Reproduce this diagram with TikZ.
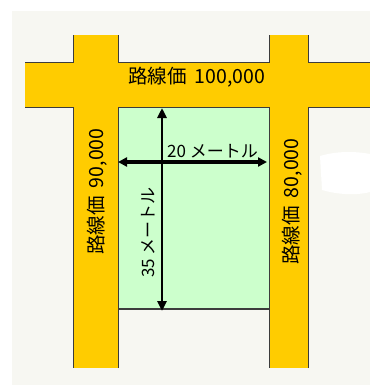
\documentclass[tikz,border=0pt]{standalone}
\usepackage{fontspec}
\setmainfont{Noto Sans CJK JP}
\usetikzlibrary{arrows.meta}
\definecolor{bgc}{RGB}{247,247,242}
\definecolor{road}{RGB}{255,204,0}
\definecolor{lot}{RGB}{204,255,204}
\definecolor{edge}{RGB}{60,60,60}
\tikzset{
  edgeline/.style={draw=edge,line width=1.3pt},
  roadlabel/.style={inner sep=0pt,font=\fontsize{19.5}{19.5}\selectfont},
  dimlabel/.style={inner sep=0pt,font=\fontsize{17}{17}\selectfont},
}
\newcommand{\gapsp}{\hspace{8pt}}
\begin{document}
\begin{tikzpicture}[x=1pt,y=-1pt]
\useasboundingbox (0,0) rectangle (370,385);
\fill[white] (0,0) rectangle (370,385);
\fill[bgc] (12,11) rectangle (370,385);
% white patch
\fill[white] (320,156) .. controls (340,150) and (360,152) .. (370,154) -- (370,192) .. controls (355,196) and (335,194) .. (322,190) -- cycle;
% lot
\fill[lot] (118.3,107.3) rectangle (269.3,309);
% roads
\fill[road] (25,62.5) rectangle (370,107.3);
\fill[road] (73.5,35.5) rectangle (118.3,368);
\fill[road] (269.3,35.5) rectangle (308.3,368);
% outlines
\draw[edgeline] (25,62.5) -- (73.5,62.5) -- (73.5,35.5);
\draw[edgeline] (118.3,35.5) -- (118.3,62.5) -- (269.3,62.5) -- (269.3,35.5);
\draw[edgeline] (308.3,35.5) -- (308.3,62.5) -- (370,62.5);
\draw[edgeline] (25,107.3) -- (73.5,107.3) -- (73.5,368);
\draw[edgeline] (118.3,368) -- (118.3,107.3) -- (269.3,107.3) -- (269.3,368);
\draw[edgeline] (308.3,368) -- (308.3,107.3) -- (370,107.3);
\draw[edgeline] (118.3,309) -- (269.3,309);
% dimension arrows
\coordinate (vt) at (162,108);
\coordinate (vb) at (162,311);
\coordinate (hl) at (118,162);
\coordinate (hr) at (267,162);
\draw[line width=2.5pt,{Triangle[width=9pt,length=10pt]}-{Triangle[width=9pt,length=10pt]}] (vt) -- (vb);
\draw[line width=3.5pt,{Triangle[width=9pt,length=9pt]}-{Triangle[width=9pt,length=9pt]}] (hl) -- (hr);
% labels
\node[roadlabel] (top) at (196.5,77.5) {路線価\gapsp 100,000};
\node[roadlabel,rotate=90] (left) at (96.7,191.5) {路線価\gapsp 90,000};
\node[roadlabel,rotate=90] (right) at (292,201.5) {路線価\gapsp 80,000};
\node[dimlabel] (w) at (212.5,151) {20 メートル};
\node[dimlabel,rotate=90] (h) at (148,232.5) {35 メートル};
\end{tikzpicture}
\end{document}
